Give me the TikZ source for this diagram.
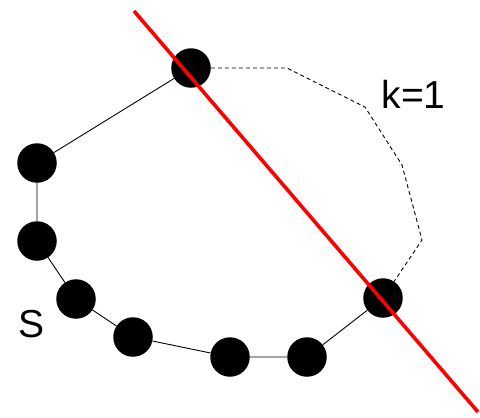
\documentclass[tikz,border=0pt]{standalone}
\usepackage{fontspec}
\setmainfont{Liberation Sans}
\usetikzlibrary{positioning}

\begin{document}
\begin{tikzpicture}[
      x=1bp, y=-1bp,
      vertex/.style={circle, fill=black, draw=none, inner sep=0pt, minimum size=39.5bp},
      edge/.style={line width=0.9bp},
      hull/.style={line width=0.9bp, dash pattern=on 4bp off 3bp},
      cut/.style={red, line width=3.6bp},
      lbl/.style={anchor=base, inner sep=0pt, font=\fontsize{39bp}{40bp}\selectfont}
    ]
    \useasboundingbox (0,0) rectangle (480,417);

    % points of S
    \node[vertex] (a) at (191,68) {};
    \node[vertex] (b) at (37,163) {};
    \node[vertex] (c) at (37,241) {};
    \node[vertex] (d) at (76,299) {};
    \node[vertex] (e) at (133,337) {};
    \node[vertex] (f) at (230,357) {};
    \node[vertex] (g) at (307,357) {};
    \node[vertex] (h) at (383,298) {};

    % dashed part of the hull
    \coordinate (h1) at (287,68);
    \coordinate (h2) at (365,107);
    \coordinate (h3) at (402,165);
    \coordinate (h4) at (422,240);

    \draw[edge] (a) -- (b) -- (c) -- (d) -- (e) -- (f) -- (g) -- (h);
    \draw[hull] (a) -- (h1) -- (h2) -- (h3) -- (h4) -- (h);

    % cutting line
    \coordinate (top) at (134,11);
    \coordinate (bot) at (478,412);
    \draw[cut] (top) -- (bot);

    \node[lbl] (k) at (413.5,108) {k=1};
    \node[lbl] (s) at (31.5,337) {S};
  \end{tikzpicture}
\end{document}
